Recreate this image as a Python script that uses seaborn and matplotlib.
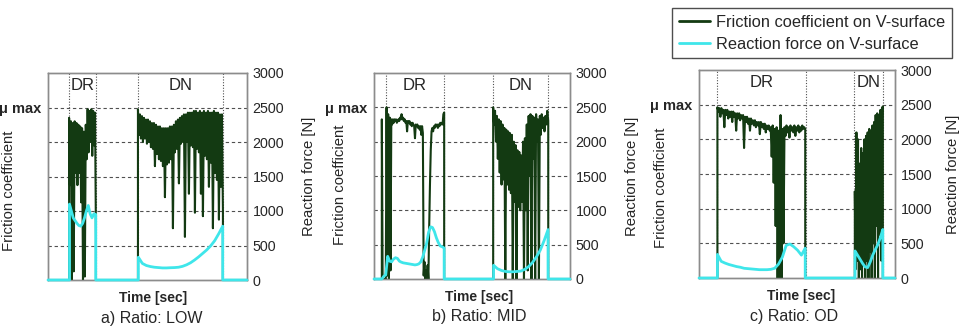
import numpy as np
import pandas as pd
import matplotlib
matplotlib.use("Agg")
import matplotlib.pyplot as plt
from matplotlib.lines import Line2D
import seaborn as sns

# ---------------- data (friction in units of mu/mu_max, force in N) ----------------
a_phases = [10.6, 24.1, 45.2, 87.9]
b_phases = [6.1, 35.7, 60.7, 88.8]
c_phases = [9.2, 54.6, 79.1, 93.9]

a_dr_fric_span = (10.6, 24.1)
a_dr_fric = [0.94, 0.55, 0.92, 0.0, 0.91, 0.05, 0.92, 0.62, 0.91, 0.55, 0.90, 0.62,
             0.89, 0.45, 0.88, 0.0, 0.86, 0.02, 0.90, 0.70, 0.99, 0.74, 0.98, 0.80,
             0.99, 0.72, 0.98, 0.78, 0.97, 0.25]
a_dn_fric_span = (45.2, 87.9)
a_dn_fric = [0.99, 0.84, 0.96, 0.82, 0.95, 0.80, 0.94, 0.82, 0.93, 0.79, 0.93, 0.80,
             0.92, 0.77, 0.91, 0.76, 0.91, 0.66, 0.90, 0.73, 0.89, 0.70, 0.89, 0.69,
             0.88, 0.66, 0.88, 0.48, 0.88, 0.67, 0.88, 0.68, 0.89, 0.70, 0.89, 0.30,
             0.90, 0.74, 0.92, 0.76, 0.93, 0.56, 0.94, 0.79, 0.95, 0.80, 0.96, 0.25,
             0.96, 0.80, 0.97, 0.50, 0.97, 0.78, 0.97, 0.77, 0.98, 0.39, 0.98, 0.76,
             0.97, 0.74, 0.98, 0.50, 0.97, 0.37, 0.98, 0.72, 0.97, 0.70, 0.98, 0.54,
             0.97, 0.68, 0.97, 0.30, 0.98, 0.62, 0.97, 0.58, 0.97, 0.35, 0.96, 0.54,
             0.96, 0.40]
a_dr_force_span = (10.8, 24.0)
a_dr_force = [1100, 1000, 900, 860, 820, 790, 780, 820, 900, 1000, 1080, 960, 900, 960, 950]
a_dn_force_span = (45.4, 87.8)
a_dn_force = [330, 240, 210, 195, 185, 180, 175, 175, 178, 180, 185, 198, 220, 250,
              290, 335, 385, 435, 495, 570, 670, 780]

b_dr_fric_span = (4.0, 35.8)
b_dr_fric = [0.93, 0.0, 0.0, 0.0, 0.0, 0.0, 1.00, 0.02, 0.96, 0.0, 0.94, 0.05,
             0.93, 0.90, 0.93, 0.91, 0.93, 0.92, 0.93, 0.91, 0.92, 0.93, 0.92, 0.94,
             0.93, 0.96, 0.93, 0.94, 0.92, 0.93, 0.91, 0.92, 0.86, 0.92, 0.91, 0.92,
             0.90, 0.91, 0.89, 0.91, 0.90, 0.89, 0.82, 0.90, 0.89, 0.90, 0.88, 0.89,
             0.87, 0.89, 0.84, 0.89, 0.85, 0.02, 0.10, 0.0, 0.05, 0.0, 0.08, 0.0,
             0.30, 0.55, 0.75, 0.86, 0.88, 0.86, 0.89, 0.88, 0.90, 0.89, 0.90, 0.88,
             0.90, 0.89, 0.91, 0.90, 0.91, 0.90, 0.96, 0.97]
b_dn_fric_span = (60.8, 88.9)
b_dn_fric = [1.00, 0.90, 0.98, 0.80, 0.95, 0.70, 0.93, 0.62, 0.92, 0.55, 0.90, 0.58,
             0.88, 0.0, 0.87, 0.55, 0.86, 0.52, 0.85, 0.50, 0.84, 0.0, 0.80, 0.45,
             0.78, 0.0, 0.75, 0.42, 0.74, 0.40, 0.72, 0.45, 0.80, 0.0, 0.82, 0.40,
             0.90, 0.05, 0.95, 0.60, 0.96, 0.0, 0.95, 0.70, 0.94, 0.0, 0.96, 0.80,
             0.93, 0.0, 0.95, 0.84, 0.96, 0.88, 0.94, 0.86, 0.95, 0.90, 0.98, 0.92]
b_dr_force_span = (4.0, 35.8)
b_dr_force = [0, 40, 60, 330, 260, 250, 290, 310, 300, 260, 245, 235, 230, 225, 220,
              215, 210, 205, 210, 220, 250, 320, 420, 520, 680, 760, 750, 690, 600,
              530, 480, 470, 450]
b_dn_force_span = (61.0, 88.8)
b_dn_force = [200, 150, 125, 110, 105, 105, 110, 115, 140, 180, 240, 320, 420, 560, 720]

c_dr_fric_span = (9.4, 54.2)
c_dr_fric = [0.985, 0.96, 0.98, 0.93, 0.98, 0.95, 0.97, 0.87, 0.97, 0.94, 0.97, 0.92,
             0.96, 0.93, 0.96, 0.90, 0.96, 0.93, 0.95, 0.85, 0.95, 0.92, 0.95, 0.91,
             0.94, 0.92, 0.94, 0.75, 0.93, 0.90, 0.93, 0.89, 0.92, 0.85, 0.92, 0.89,
             0.91, 0.88, 0.91, 0.87, 0.90, 0.88, 0.90, 0.83, 0.90, 0.87, 0.89, 0.86,
             0.89, 0.84, 0.88, 0.86, 0.88, 0.85, 0.87, 0.70, 0.88, 0.55, 0.86, 0.30,
             0.87, 0.0, 0.85, 0.0, 0.94, 0.0, 0.86, 0.20, 0.87, 0.82, 0.88, 0.84,
             0.87, 0.81, 0.88, 0.85, 0.87, 0.84, 0.88, 0.82, 0.87, 0.85, 0.88, 0.84,
             0.87, 0.85, 0.88, 0.86, 0.87, 0.86]
c_dn_fric_span = (79.5, 93.8)
c_dn_fric = [0.50, 0.05, 0.84, 0.10, 0.80, 0.0, 0.66, 0.05, 0.75, 0.0, 0.72, 0.08,
             0.80, 0.0, 0.82, 0.10, 0.84, 0.0, 0.86, 0.15, 0.85, 0.0, 0.88, 0.20,
             0.90, 0.0, 0.94, 0.30, 0.95, 0.0, 0.94, 0.25, 0.97, 0.10, 0.98, 0.99]
c_dr_force_span = (9.4, 54.2)
c_dr_force = [340, 240, 215, 195, 180, 165, 155, 140, 135, 130, 125, 120, 120, 120,
              125, 140, 200, 300, 470, 490, 450, 400, 330, 430]
c_dn_force_span = (79.6, 93.8)
c_dn_force = [390, 330, 270, 210, 160, 150, 230, 330, 410, 480, 580, 700]

phase_names = ["DR", "DN"]
force_ticks = [0, 500, 1000, 1500, 2000, 2500, 3000]
titles = ["a) Ratio: LOW", "b) Ratio: MID", "c) Ratio: OD"]
legend_labels = ["Friction coefficient on V-surface", "Reaction force on V-surface"]

# ---------------- helpers ----------------
def build_series(segments):
    ts, vs = [0.0], [0.0]
    for (start, end), vals in segments:
        t = np.linspace(start, end, len(vals))
        ts += [start] + list(t) + [end]
        vs += [0.0] + list(vals) + [0.0]
    ts.append(100.0)
    vs.append(0.0)
    return pd.DataFrame({"t": ts, "v": vs})

FRIC_C = "#133a12"
FORCE_C = "#3fe6ea"
GRID_C = "#505050"
SPINE_C = "#8c8c8c"

sns.set_style("white")
plt.rcParams["font.family"] = ["Liberation Sans", "DejaVu Sans"]

fig = plt.figure(figsize=(9.61, 3.31), dpi=100)
W, H = 961, 331
boxes = [(48, 73, 247, 280), (374, 73, 570, 279), (699, 70, 895, 278)]
panels = [
    (a_phases, [(a_dr_fric_span, a_dr_fric), (a_dn_fric_span, a_dn_fric)],
     [(a_dr_force_span, a_dr_force), (a_dn_force_span, a_dn_force)]),
    (b_phases, [(b_dr_fric_span, b_dr_fric), (b_dn_fric_span, b_dn_fric)],
     [(b_dr_force_span, b_dr_force), (b_dn_force_span, b_dn_force)]),
    (c_phases, [(c_dr_fric_span, c_dr_fric), (c_dn_fric_span, c_dn_fric)],
     [(c_dr_force_span, c_dr_force), (c_dn_force_span, c_dn_force)]),
]
ylab_pos = [(-0.161, 0.43), (-0.138, 0.456), (-0.158, 0.435)]
rlab_x = [1.276, 1.281, 1.262]
xl_x = [0.527, 0.536, 0.52]
tt_x = [0.52, 0.536, 0.485]

for i, ((x0, y0, x1, y1), (phases, fsegs, rsegs)) in enumerate(zip(boxes, panels)):
    ax = fig.add_axes([x0 / W, 1 - y1 / H, (x1 - x0) / W, (y1 - y0) / H])
    ax.set_xlim(0, 100)
    ax.set_ylim(0, 1.2)
    ax.set_axisbelow(True)
    ax.set_yticks([0.2, 0.4, 0.6, 0.8, 1.0])
    ax.set_yticklabels(["", "", "", "", "\u03bc max"], fontsize=10.5, fontweight="bold")
    ax.set_xticks([])
    ax.tick_params(axis="y", length=0, pad=5)
    ax.grid(axis="y", linestyle=(0, (3, 2.5)), color=GRID_C, linewidth=0.8)
    for p in phases:
        ax.axvline(p, color=GRID_C, linestyle=(0, (1, 1.5)), linewidth=0.8, zorder=1)
    for k, name in enumerate(phase_names):
        ax.text((phases[2 * k] + phases[2 * k + 1]) / 2, 0.94, name, transform=ax.get_xaxis_transform(),
                ha="center", va="center", fontsize=12)
    fdf = build_series(fsegs)
    sns.lineplot(data=fdf, x="t", y="v", ax=ax, color=FRIC_C, linewidth=1.5,
                 estimator=None, sort=False, legend=False, zorder=3)
    ax.set_xlabel("")
    ax.set_ylabel("Friction coefficient", fontsize=10.7)
    ax.yaxis.set_label_coords(*ylab_pos[i])

    ax2 = ax.twinx()
    rdf = build_series(rsegs)
    sns.lineplot(data=rdf, x="t", y="v", ax=ax2, color=FORCE_C, linewidth=2.0,
                 estimator=None, sort=False, legend=False, zorder=4)
    for ln in ax2.get_lines():
        ln.set_clip_on(False)
    ax2.set_xlim(0, 100)
    ax2.set_ylim(0, 3000)
    ax2.set_yticks(force_ticks)
    ax2.set_yticklabels([str(v) for v in force_ticks], fontsize=10.3)
    ax2.tick_params(axis="y", length=0, pad=4)
    ax2.set_ylabel("Reaction force [N]", fontsize=10.7)
    ax2.yaxis.set_label_coords(rlab_x[i], 0.5)
    ax2.set_xlabel("")
    for a in (ax, ax2):
        for s in a.spines.values():
            s.set_color(SPINE_C)
            s.set_linewidth(1.0)
    ax.text(xl_x[i], -0.087, "Time [sec]", transform=ax.transAxes, ha="center", va="center",
            fontsize=10, fontweight="bold")
    ax.text(tt_x[i], -0.184, titles[i], transform=ax.transAxes, ha="center", va="center",
            fontsize=11.5)

handles = [Line2D([], [], color=FRIC_C, linewidth=2.0), Line2D([], [], color=FORCE_C, linewidth=2.0)]
leg = fig.legend(handles, legend_labels, loc="upper right", bbox_to_anchor=(952 / W, 1 - 8 / H),
                 fontsize=11.8, frameon=True, fancybox=False, handlelength=1.9, handletextpad=0.4,
                 labelspacing=0.45, borderpad=0.4, borderaxespad=0)
leg.get_frame().set_edgecolor("#222222")
leg.get_frame().set_linewidth(1.0)

fig.savefig("out.png", dpi=100)
